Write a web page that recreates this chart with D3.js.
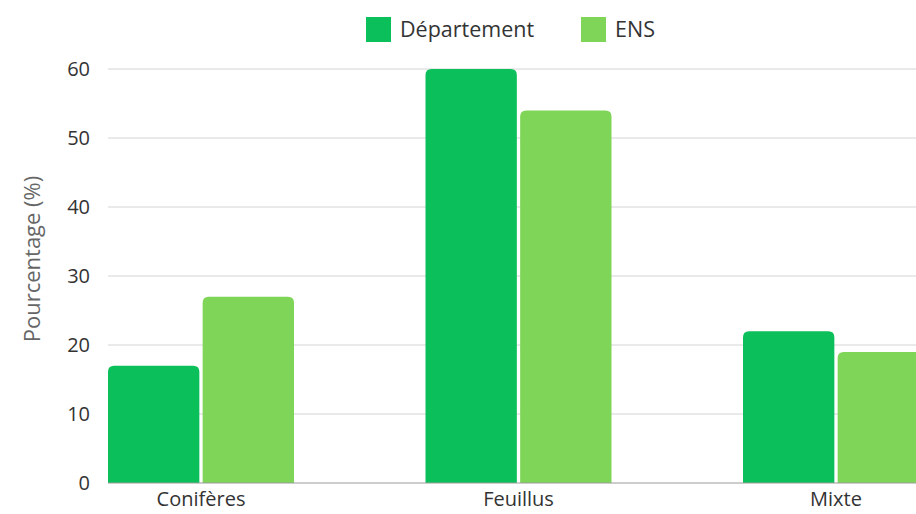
<!DOCTYPE html>
<html><head><meta charset="utf-8">
<script src="https://cdn.jsdelivr.net/npm/d3@7"></script>
<style>
html,body{margin:0;padding:0;background:#fff;overflow:hidden;}
svg{display:block;font-family:"Open Sans","Noto Sans",sans-serif;}
</style></head>
<body>
<svg id="chart" width="916" height="514"></svg>
<script>
const categories = ["Conifères", "Feuillus", "Mixte"];
const seriesNames = ["Département", "ENS"];
const departement = [17, 60, 22];
const ens = [27, 54, 19];
const yTicks = [0, 10, 20, 30, 40, 50, 60];
const colors = ["#0bbf5a", "#7ed557"];

(function () {
const values = [departement, ens];
const svg = d3.select("#chart");
const W = 916;
const mLeft = 108, mTop = 69, mBottom = 483;

const x0 = d3.scaleBand().domain(categories).range([mLeft, 929]).paddingInner(0.4142).paddingOuter(0).align(0);
const x1 = d3.scaleBand().domain(seriesNames).range([0, x0.bandwidth()]).paddingInner(0.035);
const y = d3.scaleLinear().domain([0, 60]).range([mBottom, mTop]);

// gridlines
svg.append("g").selectAll("line").data(yTicks.filter(t => t > 0)).join("line")
  .attr("x1", mLeft).attr("x2", W)
  .attr("y1", d => y(d)).attr("y2", d => y(d))
  .attr("stroke", "#d4d4d4").attr("stroke-width", 1);

// y tick labels
const yAxis = d3.axisLeft(y).tickValues(yTicks).tickSize(0).tickPadding(18);
const ga = svg.append("g").attr("transform", `translate(${mLeft},0)`).call(yAxis);
ga.select(".domain").remove();
ga.selectAll("text").attr("font-size", 20).attr("fill", "#333").attr("font-family", "'Open Sans', sans-serif");

// bars
const r = 6;
function topRounded(x, yTop, w, h) {
  const rr = Math.min(r, h, w / 2);
  return `M${x},${yTop + h}V${yTop + rr}Q${x},${yTop} ${x + rr},${yTop}H${x + w - rr}Q${x + w},${yTop} ${x + w},${yTop + rr}V${yTop + h}Z`;
}
const groups = svg.append("g").selectAll("g").data(categories).join("g")
  .attr("transform", d => `translate(${x0(d)},0)`);
groups.selectAll("path").data((c, i) => seriesNames.map((s, j) => ({s, v: values[j][i], j})))
  .join("path")
  .attr("d", d => topRounded(x1(d.s), y(d.v), x1.bandwidth(), mBottom - y(d.v)))
  .attr("fill", d => colors[d.j]);

// baseline
svg.append("line").attr("x1", mLeft).attr("x2", W).attr("y1", mBottom).attr("y2", mBottom)
  .attr("stroke", "#9a9a9a").attr("stroke-width", 1);

// x labels
const xAxis = d3.axisBottom(x0).tickSize(0).tickPadding(9);
const gx = svg.append("g").attr("transform", `translate(0,${mBottom})`).call(xAxis);
gx.select(".domain").remove();
gx.selectAll("text").attr("font-size", 20).attr("fill", "#333").attr("font-family", "'Open Sans', sans-serif");

// y title
svg.append("text").attr("transform", `translate(40,259) rotate(-90)`)
  .attr("text-anchor", "middle").attr("font-size", 22).attr("fill", "#666")
  .text("Pourcentage (%)");

// legend
const legendX = [366, 581];
const lg = svg.append("g").selectAll("g").data(seriesNames).join("g")
  .attr("transform", (d, i) => `translate(${legendX[i]},17)`);
lg.append("rect").attr("width", 25).attr("height", 25).attr("fill", (d, i) => colors[i]);
lg.append("text").attr("x", 34).attr("y", 20).attr("font-size", 21.5).attr("fill", "#333").text(d => d);
})();
</script>
</body></html>
